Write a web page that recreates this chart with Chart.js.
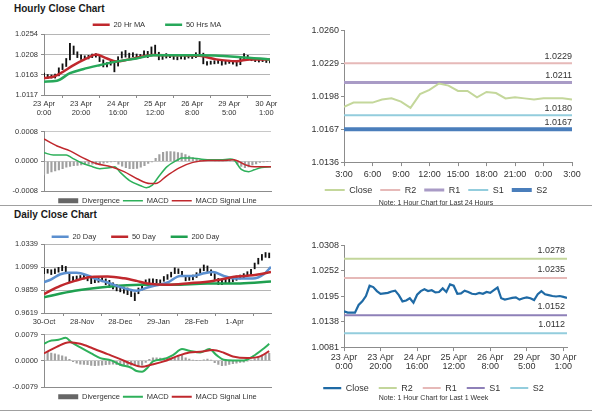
<!DOCTYPE html>
<html>
<head>
<meta charset="utf-8">
<title>Hourly and Daily Close Charts</title>
<script src="https://cdn.jsdelivr.net/npm/chart.js@4.4.1/dist/chart.umd.min.js"></script>
<style>
  body { margin: 0; background: #fff; }
  #page { position: relative; width: 600px; height: 413px; overflow: hidden; font-family: "Liberation Sans", Arial, sans-serif; }
  #page canvas { position: absolute; }
  .title { position: absolute; left: 14px; font-size: 10px; font-weight: bold; color: #1a1a1a; }
  .rule { position: absolute; height: 1px; background: #a0a0a0; }
</style>
</head>
<body>
<div id="page">
  <div class="title" style="top:3px">Hourly Close Chart</div>
  <div class="title" style="top:209px">Daily Close Chart</div>
  <div class="rule" style="left:0; top:205px; width:592px"></div>
  <div class="rule" style="left:0; top:410px; width:592px"></div>
  <canvas id="hourPrice" width="285" height="117" style="left:0; top:1px"></canvas>
  <canvas id="hourMacd" width="285" height="86" style="left:0; top:124px"></canvas>
  <canvas id="dayLevels" width="300" height="185" style="left:300px; top:23px"></canvas>
  <canvas id="dayPrice" width="285" height="109" style="left:0; top:218px"></canvas>
  <canvas id="dayMacd" width="285" height="79" style="left:0; top:327px"></canvas>
  <canvas id="weekLevels" width="300" height="165" style="left:300px; top:238px"></canvas>
</div>
<script>
Chart.defaults.font.family = '"Liberation Sans", Arial, sans-serif';
Chart.defaults.color = '#333';
Chart.defaults.animation = false;

// ---- hourly data, 23 Apr 0:00 .. 30 Apr, one reading every 2 trading hours
var hourlyHigh = [1.0166,1.0163,1.0162,1.0164,1.0178,1.0187,1.0199,1.0233,1.0227,1.0214,
  1.0207,1.0205,1.0206,1.0209,1.0210,1.0204,1.0196,1.0190,1.0193,1.0192,
  1.0203,1.0214,1.0217,1.0211,1.0212,1.0209,1.0208,1.0216,1.0215,1.0225,
  1.0229,1.0213,1.0205,1.0210,1.0208,1.0205,1.0203,1.0205,1.0204,1.0207,
  1.0206,1.0212,1.0237,1.0211,1.0192,1.0193,1.0194,1.0196,1.0193,1.0194,
  1.0195,1.0194,1.0191,1.0203,1.0210,1.0206,1.0201,1.0199,1.0198,1.0198,
  1.0197,1.0195];
var hourlyLow = [1.0156,1.0154,1.0155,1.0155,1.0160,1.0174,1.0181,1.0196,1.0208,1.0201,
  1.0197,1.0197,1.0198,1.0201,1.0202,1.0192,1.0180,1.0180,1.0184,1.0169,
  1.0182,1.0200,1.0202,1.0201,1.0203,1.0200,1.0200,1.0203,1.0201,1.0205,
  1.0210,1.0196,1.0197,1.0200,1.0201,1.0197,1.0196,1.0198,1.0197,1.0200,
  1.0199,1.0201,1.0205,1.0187,1.0184,1.0186,1.0187,1.0188,1.0184,1.0186,
  1.0188,1.0186,1.0182,1.0185,1.0198,1.0196,1.0194,1.0192,1.0191,1.0192,
  1.0190,1.0189];
var hourlyClose = [1.0161,1.0158,1.0158,1.0158,1.0175,1.0183,1.0195,1.0218,1.0215,1.0206,
  1.0200,1.0201,1.0202,1.0205,1.0207,1.0197,1.0183,1.0185,1.0190,1.0180,
  1.0198,1.0206,1.0210,1.0206,1.0208,1.0203,1.0204,1.0212,1.0204,1.0221,
  1.0218,1.0200,1.0201,1.0207,1.0204,1.0200,1.0199,1.0202,1.0200,1.0204,
  1.0202,1.0208,1.0214,1.0190,1.0187,1.0189,1.0191,1.0192,1.0187,1.0190,
  1.0192,1.0190,1.0186,1.0199,1.0206,1.0199,1.0197,1.0195,1.0194,1.0195,
  1.0193,1.0191];
var hourlyPos = hourlyClose.map(function (v, i) { return i * 2; });
var hourlyTickPos = [0, 20, 40, 60, 80, 100, 120];
var hourlyTickLabels = [['23 Apr','0:00'],['23 Apr','20:00'],['24 Apr','16:00'],['25 Apr','12:00'],
  ['26 Apr','8:00'],['29 Apr','5:00'],['30 Apr','1:00']];

var ma20hPos = [0,5,9,16,23,28,34,39,46,59,75,84,93,104,111,122];
var ma20hVal = [1.0155,1.0158,1.0166,1.0184,1.0199,1.0208,1.0199,1.0192,1.0197,1.0207,1.0206,1.0205,1.0197,1.0193,1.0197,1.0197];
var ma50hPos = [0,7,14,21,30,39,50,59,84,106,122];
var ma50hVal = [1.0147,1.0149,1.0166,1.0175,1.0184,1.0192,1.0199,1.0206,1.0206,1.0202,1.0197];

var macdhPos = [0,5,12,15,20,25,30,36,38,41,46,52,55,58,62,66,72,74,79,84,90,95,100,102,106,110,113,117,122];
var macdhVal = [0.00023,0.00017,0.00017,0.00009,-0.00004,-0.00013,-0.00020,-0.00017,-0.00015,-0.00030,
  -0.00052,-0.00066,-0.00071,-0.00065,-0.00039,-0.00015,0.00004,0.00009,0.00009,0.00006,
  0.00004,0.00004,0.00006,0.00004,-0.00022,-0.00028,-0.00023,-0.00017,-0.00015];
var signalhPos = [0,7,14,21,28,36,43,50,57,60,66,73,80,88,95,102,108,113,122];
var signalhVal = [0.00060,0.00041,0.00028,0.00009,-0.00006,-0.00015,-0.00028,-0.00047,-0.00060,-0.00060,
  -0.00039,-0.00017,-0.00003,0.00002,0.00002,0.00004,-0.00009,-0.00015,-0.00015];
var divergenceh = [-0.00037,-0.00033,-0.00029,-0.00026,-0.00023,-0.00020,-0.00016,-0.00014,-0.00012,-0.00011,
  -0.00010,-0.00009,-0.00008,-0.00008,-0.00008,-0.00007,-0.00005,-0.00003,-0.00002,0.00000,
  -0.00008,-0.00013,-0.00017,-0.00020,-0.00020,-0.00019,-0.00016,-0.00012,-0.00006,-0.00002,
  0.00008,0.00018,0.00024,0.00026,0.00026,0.00025,0.00023,0.00022,0.00018,0.00014,
  0.00010,0.00007,0.00004,0.00003,0.00002,0.00002,0.00001,0.00001,0.00001,0.00001,
  0.00001,0.00000,-0.00008,-0.00014,-0.00017,-0.00015,-0.00010,-0.00007,-0.00003,-0.00002,
  -0.00001,0.00000];

// ---- last 24 hours, 3:00 .. 3:00
var close24 = [1.0188,1.0192,1.0192,1.0192,1.0195,1.0196,1.0193,1.0187,1.0200,1.0204,
  1.0210,1.0208,1.0203,1.0203,1.0197,1.0202,1.0201,1.0196,1.0197,1.0196,
  1.0195,1.0196,1.0196,1.0196,1.0195];
var hours24Pos = close24.map(function (v, i) { return i; });
var hours24TickPos = [0, 3, 6, 9, 12, 15, 18, 21, 24];
var hours24TickLabels = ['3:00','6:00','9:00','12:00','15:00','18:00','21:00','0:00','3:00'];
var levels24Names = ['R2', 'R1', 'S1', 'S2'];
var levels24 = [1.0229, 1.0211, 1.0180, 1.0167];
var levelsWeekNames = ['R2', 'R1', 'S1', 'S2'];
var levelsWeek = [1.0278, 1.0235, 1.0152, 1.0112];

// ---- daily data, 30-Oct .. end of April, one reading every 2 days
var dailyHigh = [1.0085,1.0075,1.0070,1.0080,1.0095,1.0115,1.0105,1.0040,1.0000,1.0005,
  1.0010,1.0020,1.0000,0.9990,0.9975,0.9985,0.9990,0.9975,0.9960,0.9935,
  0.9915,0.9900,0.9890,0.9880,0.9865,0.9830,0.9880,0.9920,0.9965,0.9975,
  0.9975,0.9970,0.9965,1.0000,1.0020,1.0045,1.0090,1.0080,1.0055,1.0010,
  1.0005,1.0015,1.0040,1.0080,1.0120,1.0110,1.0070,1.0030,0.9980,0.9965,
  0.9970,0.9980,0.9990,1.0005,1.0015,1.0030,1.0050,1.0075,1.0140,1.0190,
  1.0230,1.0250,1.0245];
var dailyLow = [1.0030,1.0035,1.0020,1.0030,1.0045,1.0060,1.0040,0.9940,0.9945,0.9960,
  0.9970,0.9975,0.9955,0.9925,0.9935,0.9940,0.9945,0.9915,0.9885,0.9870,
  0.9850,0.9840,0.9825,0.9810,0.9790,0.9748,0.9820,0.9860,0.9910,0.9930,
  0.9935,0.9930,0.9920,0.9950,0.9970,0.9995,1.0030,1.0030,1.0000,0.9955,
  0.9960,0.9965,0.9990,1.0030,1.0060,1.0050,1.0010,0.9960,0.9915,0.9915,
  0.9925,0.9935,0.9945,0.9960,0.9975,0.9985,1.0005,1.0020,1.0080,1.0130,
  1.0170,1.0200,1.0195];
var dailyPos = dailyHigh.map(function (v, i) { return i * 2; });
var dailyTickPos = [0, 21, 42, 63, 84, 105];
var dailyTickLabels = ['30-Oct','28-Nov','28-Dec','29-Jan','28-Feb','1-Apr'];

var ma20dPos = [0,4,9,13,18,24,29,35,40,46,51,57,62,68,75,82,88,93,99,106,115,121,125];
var ma20dVal = [0.9940,0.9971,1.0023,1.0040,1.0040,1.0012,0.9971,0.9937,0.9902,0.9868,0.9851,0.9885,
  0.9909,0.9937,1.0006,1.0006,1.0033,1.0047,1.0006,0.9978,0.9978,1.0023,1.0100];
var ma50dPos = [0,9,17,26,35,44,51,57,68,80,93,106,115,125];
var ma50dVal = [0.9817,0.9902,0.9954,0.9995,0.9999,0.9981,0.9954,0.9927,0.9913,0.9930,0.9954,0.9999,1.0012,1.0047];
var ma200dPos = [0,17,35,53,71,90,108,125];
var ma200dVal = [0.9783,0.9851,0.9892,0.9913,0.9913,0.9927,0.9927,0.9947];

var macddPos = [0,3,8,12,15,20,26,31,37,42,48,51,54,57,60,66,71,76,80,86,91,95,99,104,110,115,121,124];
var macddVal = [0.0051,0.0059,0.0063,0.0069,0.0056,0.0040,0.0022,0.0008,0.0001,-0.0012,
  -0.0021,-0.0031,-0.0033,-0.0021,-0.0002,0.0005,0.0017,0.0035,0.0030,0.0025,
  0.0035,0.0017,0.0003,0.0001,0.0001,0.0013,0.0037,0.0051];
var signaldPos = [0,7,14,20,27,35,42,48,54,59,66,73,80,86,93,99,104,112,119,124];
var signaldVal = [0.0022,0.0042,0.0056,0.0051,0.0037,0.0020,0.0005,-0.0009,-0.0018,-0.0012,
  -0.0002,0.0013,0.0025,0.0027,0.0032,0.0024,0.0013,0.0008,0.0013,0.0029];
var divergenced = [0.0029,0.0025,0.0023,0.0021,0.0018,0.0015,0.0012,0.0004,-0.0003,-0.0007,
  -0.0010,-0.0011,-0.0012,-0.0014,-0.0015,-0.0014,-0.0013,-0.0012,-0.0011,-0.0010,
  -0.0012,-0.0014,-0.0015,-0.0014,-0.0013,-0.0014,-0.0015,-0.0013,-0.0005,0.0004,
  0.0009,0.0009,0.0008,0.0008,0.0007,0.0006,0.0009,0.0016,0.0017,0.0009,
  0.0005,0.0002,0.0001,0.0000,0.0003,0.0005,0.0002,-0.0006,-0.0011,-0.0015,
  -0.0014,-0.0011,-0.0009,-0.0007,-0.0005,-0.0004,-0.0001,0.0002,0.0006,0.0012,
  0.0017,0.0020,0.0022];

// ---- helpers
function pts(xs, ys) { return xs.map(function (x, i) { return { x: x, y: ys[i] }; }); }
function bars(xs, lo, hi) { return xs.map(function (x, i) { return { x: x, y: [lo[i], hi[i]] }; }); }
function flat(v, x0, x1) { return [{ x: x0, y: v }, { x: x1, y: v }]; }

function yAxis(min, max, ticks, o) {
  return {
    min: min, max: max,
    afterBuildTicks: function (s) { s.ticks = ticks.map(function (v) { return { value: v }; }); },
    afterFit: function (s) { s.width = o.width; },
    ticks: { callback: function (v) { return v.toFixed(4); }, font: { size: o.size }, padding: o.pad, color: '#333' },
    grid: { drawOnChartArea: o.grid, color: o.gridColor || '#b5b5b5', tickLength: 3, tickColor: '#8c8c8c' },
    border: { color: '#8c8c8c' }
  };
}
function xAxis(max, tickPos, tickLabels, o) {
  return {
    type: 'linear', min: 0, max: max, offset: false,
    afterBuildTicks: function (s) { s.ticks = tickPos.map(function (v) { return { value: v }; }); },
    afterFit: function (s) { s.height = o.height; },
    ticks: {
      display: !!tickLabels, autoSkip: false, maxRotation: 0, padding: o.pad || 0,
      font: { size: o.size || 8, lineHeight: o.lh || 1.2 }, color: '#333',
      callback: function (v) { return tickLabels ? tickLabels[tickPos.indexOf(v)] : ''; }
    },
    grid: { drawOnChartArea: false, drawTicks: !!tickLabels, tickLength: o.tick || 3, color: '#8c8c8c' },
    border: { color: '#8c8c8c' }
  };
}
// legend keeps dataset order, not drawing order
function legendLabels(size, pad, width, look) {
  return {
    padding: pad, usePointStyle: true, pointStyle: 'line', pointStyleWidth: width,
    font: { size: size }, color: '#333',
    filter: function (l) { return l.text !== ''; },
    sort: function (a, b) { return a.datasetIndex - b.datasetIndex; },
    generateLabels: function (chart) {
      return Chart.defaults.plugins.legend.labels.generateLabels(chart).map(function (l) {
        return Object.assign(l, (look || {})[l.text] || {});
      });
    }
  };
}
var macdLook = { 'Divergence': { lineWidth: 5, strokeStyle: '#666' } };

// writes each level's value above its line, at the right end
var levelLabels = {
  id: 'levelLabels',
  afterDatasetsDraw: function (chart, args, opts) {
    var ctx = chart.ctx, area = chart.chartArea, y = chart.scales.y;
    ctx.save();
    ctx.font = opts.size + 'px "Liberation Sans", Arial, sans-serif';
    ctx.fillStyle = '#333';
    ctx.textAlign = 'right';
    ctx.textBaseline = 'bottom';
    opts.values.forEach(function (v) {
      ctx.fillText(v.toFixed(4), area.right - opts.inset, y.getPixelForValue(v) - opts.gap);
    });
    ctx.restore();
  }
};

// ---- hourly close chart
new Chart(document.getElementById('hourPrice'), {
  type: 'bar',
  data: {
    datasets: [
      { type: 'line', label: '20 Hr MA', data: pts(ma20hPos, ma20hVal), borderColor: '#c0282d', borderWidth: 2.5,
        pointRadius: 0, cubicInterpolationMode: 'monotone', order: 1 },
      { type: 'line', label: '50 Hrs MA', data: pts(ma50hPos, ma50hVal), borderColor: '#27a85a', borderWidth: 2.5,
        pointRadius: 0, cubicInterpolationMode: 'monotone', order: 0 },
      { type: 'bar', label: '', data: bars(hourlyPos, hourlyLow, hourlyHigh), backgroundColor: '#111',
        barThickness: 1.2, order: 2 }
    ]
  },
  options: {
    responsive: false,
    layout: { padding: { right: 15 } },
    plugins: {
      legend: { position: 'top', fullSize: false, maxHeight: 33, labels: legendLabels(7.5, 20, 17) },
      tooltip: { enabled: false }
    },
    scales: {
      x: xAxis(122, hourlyTickPos, hourlyTickLabels, { height: 23, size: 7.5, pad: 1 }),
      y: yAxis(1.0117, 1.0254, [1.0117, 1.0163, 1.0208, 1.0254], { width: 44, size: 7.5, pad: 3, grid: true })
    }
  }
});

new Chart(document.getElementById('hourMacd'), {
  type: 'bar',
  data: {
    datasets: [
      { type: 'bar', label: 'Divergence', data: pts(hourlyPos, divergenceh), backgroundColor: '#a0a0a0',
        barThickness: 1.5, order: 2 },
      { type: 'line', label: 'MACD', data: pts(macdhPos, macdhVal), borderColor: '#2eb05a', borderWidth: 1.5,
        pointRadius: 0, cubicInterpolationMode: 'monotone', order: 1 },
      { type: 'line', label: 'MACD Signal Line', data: pts(signalhPos, signalhVal), borderColor: '#c0282d', borderWidth: 1.5,
        pointRadius: 0, cubicInterpolationMode: 'monotone', order: 0 }
    ]
  },
  options: {
    responsive: false,
    layout: { padding: { top: 5, right: 14 } },
    plugins: {
      legend: { position: 'bottom', fullSize: false, maxHeight: 16, labels: legendLabels(7.5, 3, 20, macdLook) },
      tooltip: { enabled: false }
    },
    scales: {
      x: xAxis(122, [], null, { height: 3 }),
      y: yAxis(-0.0008, 0.0008, [-0.0008, 0, 0.0008], { width: 44, size: 7.5, pad: 3, grid: true, gridColor: '#c8c8c8' })
    }
  }
});

// ---- last 24 hours with pivot levels
var colors24 = ['#e6b9b8', '#a99bc6', '#93cddd', '#4a7ebb'];
var widths24 = [2, 3, 2, 4];
new Chart(document.getElementById('dayLevels'), {
  type: 'line',
  data: {
    datasets: [{ label: 'Close', data: pts(hours24Pos, close24), borderColor: '#c4d79b', borderWidth: 2, pointRadius: 0 }]
      .concat(levels24.map(function (v, i) {
        return { label: levels24Names[i], data: flat(v, 0, 24), borderColor: colors24[i], borderWidth: widths24[i], pointRadius: 0 };
      }))
  },
  options: {
    responsive: false,
    layout: { padding: { top: 5, right: 28 } },
    plugins: {
      legend: { position: 'bottom', maxHeight: 17, labels: legendLabels(9, 8, 20) },
      subtitle: { display: true, position: 'bottom', text: 'Note: 1 Hour Chart for Last 24 Hours',
        font: { size: 7 }, color: '#333', padding: { top: 4, bottom: 1 } },
      levelLabels: { values: levels24, size: 9, gap: 2, inset: 0 },
      tooltip: { enabled: false }
    },
    scales: {
      x: xAxis(24, hours24TickPos, hours24TickLabels, { height: 15.5, size: 9, pad: 3, tick: 4 }),
      y: yAxis(1.0136, 1.0260, [1.0136, 1.0167, 1.0198, 1.0229, 1.0260], { width: 44, size: 9, pad: 2, grid: false })
    }
  },
  plugins: [levelLabels]
});

// ---- daily close chart
new Chart(document.getElementById('dayPrice'), {
  type: 'bar',
  data: {
    datasets: [
      { type: 'line', label: '20 Day', data: pts(ma20dPos, ma20dVal), borderColor: '#5b8fcf', borderWidth: 2.5,
        pointRadius: 0, cubicInterpolationMode: 'monotone', order: 1 },
      { type: 'line', label: '50 Day', data: pts(ma50dPos, ma50dVal), borderColor: '#c0282d', borderWidth: 2.5,
        pointRadius: 0, cubicInterpolationMode: 'monotone', order: 0 },
      { type: 'line', label: '200 Day', data: pts(ma200dPos, ma200dVal), borderColor: '#1fa050', borderWidth: 2.5,
        pointRadius: 0, cubicInterpolationMode: 'monotone', order: 2 },
      { type: 'bar', label: '', data: bars(dailyPos, dailyLow, dailyHigh), backgroundColor: '#111',
        barThickness: 1.2, order: 3 }
    ]
  },
  options: {
    responsive: false,
    layout: { padding: { right: 14 } },
    plugins: {
      legend: { position: 'top', maxHeight: 26, labels: legendLabels(7.5, 15, 17) },
      tooltip: { enabled: false }
    },
    scales: {
      x: xAxis(125, dailyTickPos, dailyTickLabels, { height: 14, size: 7.5, pad: 1 }),
      y: yAxis(0.9619, 1.0339, [0.9619, 0.9859, 1.0099, 1.0339], { width: 44, size: 7.5, pad: 3, grid: true })
    }
  }
});

new Chart(document.getElementById('dayMacd'), {
  type: 'bar',
  data: {
    datasets: [
      { type: 'bar', label: 'Divergence', data: pts(dailyPos, divergenced), backgroundColor: '#a0a0a0',
        barThickness: 1.5, order: 2 },
      { type: 'line', label: 'MACD', data: pts(macddPos, macddVal), borderColor: '#2eb05a', borderWidth: 2,
        pointRadius: 0, cubicInterpolationMode: 'monotone', order: 1 },
      { type: 'line', label: 'MACD Signal Line', data: pts(signaldPos, signaldVal), borderColor: '#c0282d', borderWidth: 2,
        pointRadius: 0, cubicInterpolationMode: 'monotone', order: 0 }
    ]
  },
  options: {
    responsive: false,
    layout: { padding: { top: 5, right: 14 } },
    plugins: {
      legend: { position: 'bottom', fullSize: false, maxHeight: 16, labels: legendLabels(7.5, 3, 20, macdLook) },
      tooltip: { enabled: false }
    },
    scales: {
      x: xAxis(125, [], null, { height: 3 }),
      y: yAxis(-0.0079, 0.0079, [-0.0079, 0, 0.0079], { width: 44, size: 7.5, pad: 3, grid: true, gridColor: '#c8c8c8' })
    }
  }
});

// ---- one week of hourly closes with pivot levels
var colorsWeek = ['#c3d69b', '#e6b9b8', '#8e80b8', '#93cddd'];
new Chart(document.getElementById('weekLevels'), {
  type: 'line',
  data: {
    datasets: [{ label: 'Close', data: pts(hourlyPos, hourlyClose), borderColor: '#1f6aa5', borderWidth: 2.2, pointRadius: 0 }]
      .concat(levelsWeek.map(function (v, i) {
        return { label: levelsWeekNames[i], data: flat(v, 0, 122), borderColor: colorsWeek[i], borderWidth: 2, pointRadius: 0 };
      }))
  },
  options: {
    responsive: false,
    layout: { padding: { top: 5, right: 33 } },
    plugins: {
      legend: { position: 'bottom', maxHeight: 19, labels: legendLabels(9, 10, 18) },
      subtitle: { display: true, position: 'bottom', text: 'Note: 1 Hour Chart for Last 1 Week',
        font: { size: 7 }, color: '#333', padding: { top: 1, bottom: 1 } },
      levelLabels: { values: levelsWeek, size: 9, gap: 4, inset: 2 },
      tooltip: { enabled: false }
    },
    scales: {
      x: xAxis(122, hourlyTickPos, hourlyTickLabels, { height: 26.5, size: 9, pad: 2, tick: 4, lh: 1 }),
      y: yAxis(1.0081, 1.0308, [1.0081, 1.0138, 1.0195, 1.0252, 1.0308], { width: 44, size: 9, pad: 2, grid: false })
    }
  },
  plugins: [levelLabels]
});
</script>
</body>
</html>
